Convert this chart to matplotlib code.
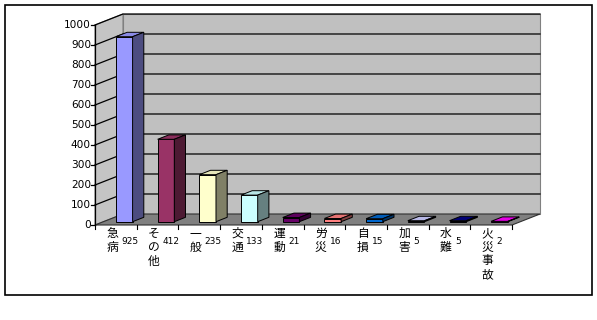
import matplotlib
matplotlib.use("Agg")
import matplotlib.pyplot as plt
from matplotlib.patches import Polygon, Rectangle
import numpy as np

categories = ["急病", "その他", "一般", "交通", "運動", "労災", "自損", "加害", "水難", "火災事故"]
values = [925, 412, 235, 133, 21, 16, 15, 5, 5, 2]
colors = ["#9999FF", "#993366", "#FFFFCC", "#CCFFFF", "#660066",
          "#FF8080", "#0066CC", "#CCCCFF", "#000080", "#FF00FF"]
yticks = list(range(0, 1001, 100))

W, H = 597, 320
fig = plt.figure(figsize=(W / 100, H / 100), dpi=100)
fig.patch.set_facecolor("white")

# front plane of the 3D box in pixels
x0p, x1p, y0p, y1p = 95, 512, 225, 25
ax = fig.add_axes([x0p / W, (H - y0p) / H, (x1p - x0p) / W, (y0p - y1p) / H])
n = len(categories)
ymax = 1000
ax.set_xlim(0, n)
ax.set_ylim(0, ymax)
ax.axis("off")

px_x = (x1p - x0p) / n          # pixels per category
px_y = (y0p - y1p) / ymax       # pixels per unit
DX = 28 / px_x                   # depth offset in data units
DY = 11 / px_y


def P(x, y, d):
    return (x + d * DX, y + d * DY)


def poly(pts, fc, ec, lw=0.8, z=1):
    ax.add_patch(Polygon([P(*p) for p in pts], closed=True, facecolor=fc,
                         edgecolor=ec, linewidth=lw, clip_on=False, zorder=z,
                         joinstyle="miter"))


# walls
poly([(0, 0, 0), (0, ymax, 0), (0, ymax, 1), (0, 0, 1)], "#C4C4C4", "#808080", 0.8, 1)
poly([(0, 0, 1), (0, ymax, 1), (n, ymax, 1), (n, 0, 1)], "#C0C0C0", "#808080", 0.8, 1)
poly([(0, 0, 0), (n, 0, 0), (n, 0, 1), (0, 0, 1)], "#808080", "#303030", 0.8, 2)

# gridlines
for v in yticks[1:]:
    xa, ya = P(0, v, 0)
    xb, yb = P(0, v, 1)
    xc, yc = P(n, v, 1)
    ax.plot([xa, xb, xc], [ya, yb, yc], color="black", lw=0.9, clip_on=False, zorder=3)
# y axis line and ticks
ax.plot([0, 0], [0, ymax], color="black", lw=0.9, clip_on=False, zorder=3)
for v in yticks:
    ax.plot([-4 / px_x, 0], [v, v], color="black", lw=0.9, clip_on=False, zorder=3)
    ax.text(-4 / px_x, v, str(v), ha="right", va="center", fontsize=7.6,
            family="DejaVu Sans", color="black")

# category ticks below floor
for i in range(n + 1):
    ax.plot([i, i], [0, -4 / px_y], color="black", lw=0.8, clip_on=False, zorder=3)


def shade(c, f):
    r, g, b = matplotlib.colors.to_rgb(c)
    return (r * f, g * f, b * f)


bw = 0.4
d0, d1 = 0.3, 0.7
for i, (v, c) in enumerate(zip(values, colors)):
    xl = i + 0.5 - bw / 2
    xr = i + 0.5 + bw / 2
    poly([(xl, 0, d0), (xl, v, d0), (xr, v, d0), (xr, 0, d0)], c, "black", 0.7, 5)
    poly([(xl, v, d0), (xl, v, d1), (xr, v, d1), (xr, v, d0)], shade(c, 0.9), "black", 0.7, 5)
    poly([(xr, 0, d0), (xr, v, d0), (xr, v, d1), (xr, 0, d1)], shade(c, 0.5), "black", 0.7, 5)

# category labels (vertical characters) with small value numbers
for i, (cat, v) in enumerate(zip(categories, values)):
    cx = i + 0.5 - 3.5 / px_x
    ax.text(cx, -2 / px_y, "\n".join(cat), ha="center", va="top", fontsize=8.5,
            family=["Noto Sans CJK JP", "DejaVu Sans"], linespacing=1.07, color="black")
    ax.text(cx + 9 / px_x, -17 / px_y, str(v), ha="left", va="center", fontsize=6.5,
            family="DejaVu Sans", color="black")

# outer border
fig.patches.append(Rectangle((4.5 / W, (H - 294.5) / H), (592 - 4.5) / W, (294.5 - 4.5) / H,
                             transform=fig.transFigure, fill=False, edgecolor="black",
                             linewidth=1.2))

fig.savefig("out.png", dpi=100)
